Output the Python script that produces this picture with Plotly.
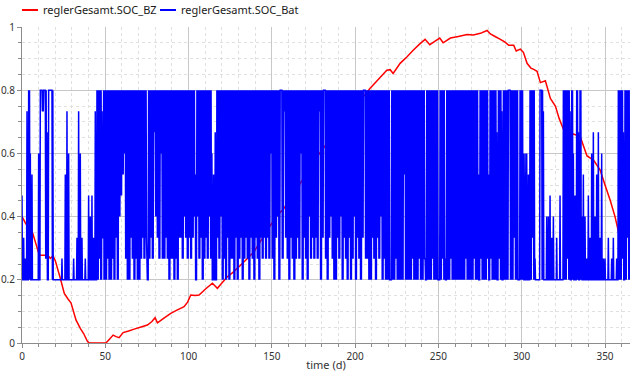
import plotly.graph_objects as go

# ---------------- data ----------------
# reglerGesamt.SOC_BZ : (time in days, value)
BZ_T = [0, 2, 4.4, 6, 8, 10.4, 15.4, 17, 18.6, 20, 23, 25.4, 27.5, 29.4, 32.4, 35, 37, 39.4, 40.5,
        50.4, 52.5, 54.7, 56.5, 58.3, 60.7, 64, 67.3, 71, 75.3, 78, 79.9, 81.3, 85, 89.3, 93, 97.3,
        99.5, 101.3, 104, 106.3, 110, 114.3, 117.3, 120, 123, 127, 131, 135, 139, 144, 149, 153,
        157, 160, 164, 168, 173, 179, 182, 188, 195, 202, 209, 214, 219, 221, 222.8, 227, 231, 235,
        238.5, 242, 244.8, 248, 250.8, 252.8, 257.2, 262, 267.2, 271, 275.2, 279.2, 281.2, 284,
        287.2, 290, 292.2, 295.2, 296.7, 299.2, 301, 303.2, 305.5, 307.2, 309.2, 311.2, 314.2,
        317.2, 320.2, 322.5, 325.2, 327.5, 330.2, 335.1, 339.2, 343.1, 347.1, 350, 353.1, 356,
        358.1, 360, 362.5, 365]
BZ_V = [0.40, 0.38, 0.36, 0.355, 0.32, 0.278, 0.278, 0.268, 0.276, 0.26, 0.205, 0.157, 0.14, 0.127,
        0.073, 0.046, 0.03, 0.004, 0.0,
        0.0, 0.012, 0.025, 0.02, 0.017, 0.033, 0.038, 0.044, 0.05, 0.057, 0.068, 0.08, 0.064, 0.078,
        0.094, 0.104, 0.115, 0.13, 0.152, 0.15, 0.152, 0.17, 0.189, 0.173, 0.19, 0.208, 0.225,
        0.245, 0.266, 0.287, 0.329, 0.371, 0.403, 0.424, 0.45, 0.48, 0.513, 0.555, 0.603, 0.624,
        0.66, 0.71, 0.76, 0.806, 0.835, 0.863, 0.865, 0.853, 0.885, 0.905, 0.927, 0.945, 0.961,
        0.944, 0.955, 0.965, 0.95, 0.965, 0.97, 0.976, 0.975, 0.98, 0.989, 0.978, 0.97, 0.961,
        0.952, 0.942, 0.942, 0.924, 0.93, 0.92, 0.885, 0.87, 0.866, 0.86, 0.824, 0.83, 0.774,
        0.75, 0.71, 0.674, 0.67, 0.663, 0.653, 0.592, 0.579, 0.547, 0.5, 0.452, 0.4, 0.352, 0.35,
        0.352, 0.357]

# reglerGesamt.SOC_Bat : per day, the level code of the daily high and daily low
# (code k -> BAT_LEVELS[k]); groups of 10 days starting at day 0
BAT_LEVELS = [0.2, 0.267, 0.333, 0.4, 0.467, 0.533, 0.6, 0.667, 0.733, 0.8]
BAT_HIGH = ("4218965000 6999979990 0000105860 0102862010 4342899989 "
            "9999999999 9999999999 9999919999 9999999999 9999999999 "
            "9999599999 9999657999 9999999999 9999999999 9999999999 "
            "9999999999 9999999999 9999999999 9999999999 9999999999 "
            "9999999999 9999999999 9099999999 9999999999 9919999999 "
            "0999199999 9999999999 9999599999 5999979989 9999999909 "
            "9666599910 0998033423 0204099998 9649793531 4267357261 "
            "1020120199 97999")
BAT_LOW = ("0000000000 0989109900 0000000000 0000000000 0000001020 "
           "0100102034 5610021010 0121201217 3216112101 1010221321 "
           "2123031201 2131000213 0102011020 1201210210 2102121216 "
           "1023091821 0210121602 1031212180 2910231002 1302102013 "
           "0210291100 2102130100 0000100005 0000100010 0100001000 "
           "0010000100 0000001000 0100010001 0100001000 0090020000 "
           "0000002000 0900000000 0000000100 0000000000 0000000000 "
           "0000000000 10020")

LEGEND_NAMES = ["reglerGesamt.SOC_BZ", "reglerGesamt.SOC_Bat"]
X_TITLE = "time (d)"

# ---------------- build ----------------
hi = BAT_HIGH.replace(" ", "")
lo = BAT_LOW.replace(" ", "")
assert len(hi) == 365 and len(lo) == 365
bat_x, bat_y = [], []
for d in range(365):
    h = BAT_LEVELS[int(hi[d])]
    l = BAT_LEVELS[int(lo[d])]
    if hi[d] == "9" and lo[d] != "9":
        seq = [h, l, h, l]          # fully cycling day
    else:
        seq = [h, l, l, l]          # single excursion day
    bat_x += [d, d + 0.25, d + 0.5, d + 0.75]
    bat_y += seq

RED = "#ff0000"
BLUE = "#0000ff"
FONT = "Noto Sans"

fig = go.Figure()
fig.add_trace(go.Scatter(x=BZ_T, y=BZ_V, mode="lines", name=LEGEND_NAMES[0],
                         line=dict(color=RED, width=1.5, simplify=False)))
fig.add_trace(go.Scatter(x=bat_x, y=bat_y, mode="lines", name=LEGEND_NAMES[1],
                         line=dict(color=BLUE, width=1.5, simplify=False)))

# plot area geometry in pixels
W, H = 630, 372
ML, MR, MT, MB = 22, 0, 27, 29
PW, PH = W - ML - MR, H - MT - MB


def px_x(px):
    return (px - ML) / PW


def px_y(py):
    return (H - MB - py) / PH


ly = px_y(10)
shapes = [
    dict(type="line", xref="paper", yref="paper", x0=px_x(22), x1=px_x(38), y0=ly, y1=ly,
         line=dict(color=RED, width=2)),
    dict(type="line", xref="paper", yref="paper", x0=px_x(160), x1=px_x(176), y0=ly, y1=ly,
         line=dict(color=BLUE, width=2)),
]
annotations = [
    dict(xref="paper", yref="paper", x=px_x(41), y=ly, text=LEGEND_NAMES[0], showarrow=False,
         xanchor="left", yanchor="middle", font=dict(family=FONT, size=11, color="#1a1a1a")),
    dict(xref="paper", yref="paper", x=px_x(179), y=ly, text=LEGEND_NAMES[1], showarrow=False,
         xanchor="left", yanchor="middle", font=dict(family=FONT, size=11, color="#1a1a1a")),
]

axis_common = dict(
    showgrid=True, gridcolor="#c8c8c8", gridwidth=1,
    zeroline=False, showline=True, linecolor="#8c8c8c", linewidth=1,
    ticks="outside", ticklen=4, tickcolor="#8c8c8c",
    tickfont=dict(family=FONT, size=10, color="#333333"),
)

fig.update_layout(
    width=W, height=H,
    margin=dict(l=ML, r=MR, t=MT, b=MB, autoexpand=False),
    paper_bgcolor="white", plot_bgcolor="white",
    showlegend=False,
    shapes=shapes, annotations=annotations,
    font=dict(family=FONT),
    xaxis=dict(range=[0, 365], tickmode="linear", tick0=0, dtick=50,
               minor=dict(tick0=0, dtick=10, showgrid=True, gridcolor="#e0e0e0", griddash="dot",
                          ticks="outside", ticklen=3, tickcolor="#8c8c8c"),
               title=dict(text=X_TITLE, font=dict(family=FONT, size=11, color="#333333"), standoff=1),
               **axis_common),
    yaxis=dict(range=[0, 1], tickmode="linear", tick0=0, dtick=0.2,
               minor=dict(tick0=0, dtick=0.05, showgrid=True, gridcolor="#e0e0e0", griddash="dot",
                          ticks="outside", ticklen=3, tickcolor="#8c8c8c"),
               **axis_common),
)

fig.write_html("out.html", config={"displayModeBar": False})

# remove the browser's default page margin so the figure sits at the window's corner
with open("out.html", encoding="utf-8") as f:
    html = f.read()
html = html.replace("<head>", "<head><style>html,body{margin:0;padding:0;overflow:hidden;}</style>", 1)
with open("out.html", "w", encoding="utf-8") as f:
    f.write(html)
